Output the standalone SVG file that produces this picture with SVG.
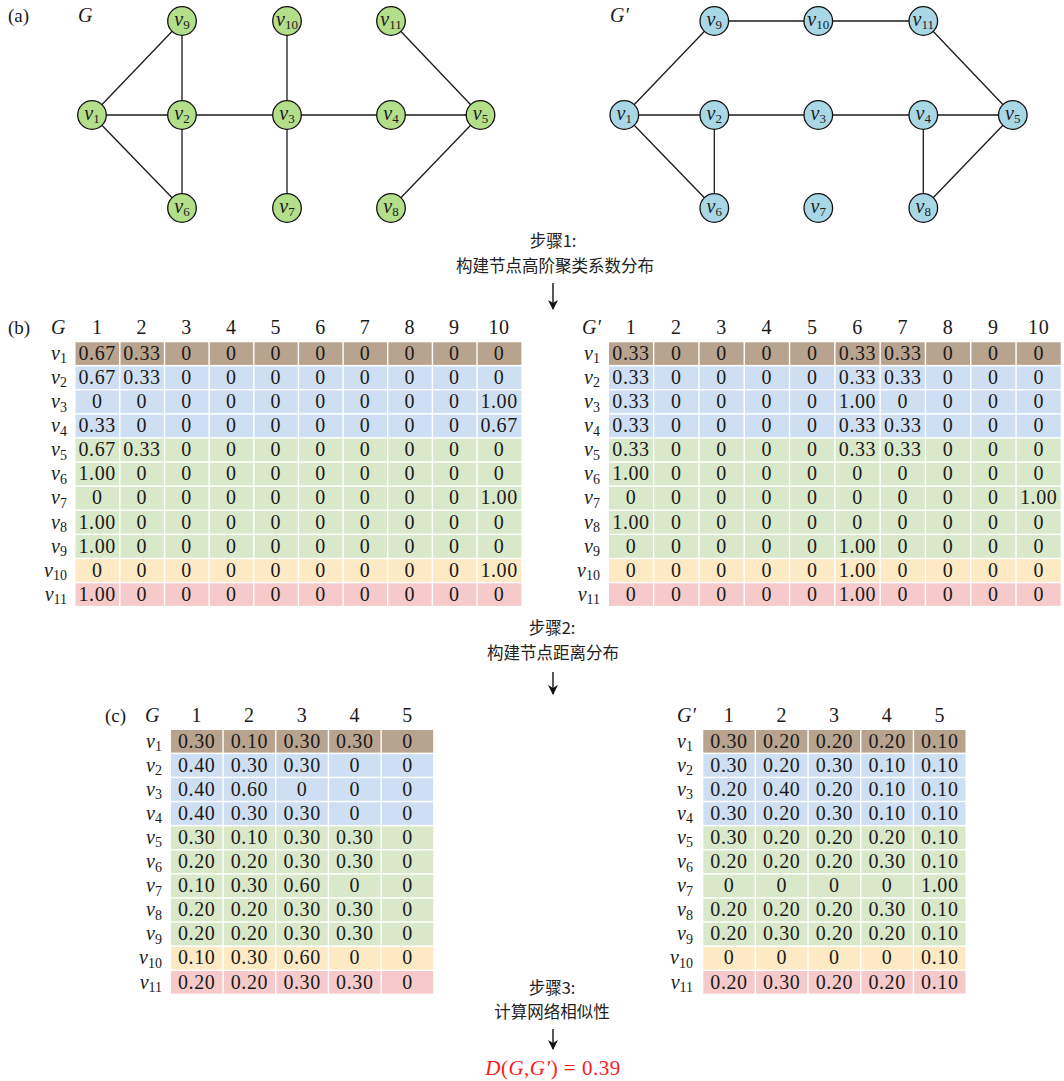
<svg xmlns="http://www.w3.org/2000/svg" width="1064" height="1081" viewBox="0 0 1064 1081">
<defs>
<style>
.bg{fill:#ffffff}
.e{stroke:#1a1a1a;stroke-width:1.3;fill:none}
.ng{fill:#b3de8a;stroke:#111;stroke-width:1.3}
.nb{fill:#a9d7e6;stroke:#111;stroke-width:1.3}
.nl{font-family:"Liberation Serif",serif;font-size:20px;font-style:italic;fill:#1a1a1a;text-anchor:middle}
.sub{font-style:normal;font-size:13px}
.num{font-family:"Liberation Serif",serif;font-size:20px;fill:#1a1a1a;text-anchor:middle;letter-spacing:0.6px}
.rl{font-family:"Liberation Serif",serif;font-size:20px;font-style:italic;fill:#1a1a1a;text-anchor:end}
.rsub{font-style:normal;font-size:14px}
.it{font-family:"Liberation Serif",serif;font-size:20px;font-style:italic;fill:#1a1a1a}
.lab{font-family:"Liberation Serif",serif;font-size:19px;fill:#1a1a1a}
.cn{font-family:"Noto Sans CJK SC","Noto Sans",sans-serif;font-size:16.5px;fill:#222;text-anchor:middle}
.r1{fill:#b8a48e}
.r2{fill:#cfdff3}
.r3{fill:#d9e8c9}
.r4{fill:#fde9c4}
.r5{fill:#f6caca}
.wl{stroke:#ffffff;stroke-width:1.4}
.arr{stroke:#111;stroke-width:1.4}
</style>
<marker id="ah" markerWidth="10" markerHeight="12" refX="9" refY="5" orient="auto" markerUnits="userSpaceOnUse">
<path d="M0,0 L10,5 L0,10 L3,5 Z" fill="#111"/>
</marker>
</defs>
<rect class="bg" x="0" y="0" width="1064" height="1081"/>

<!-- (a) labels -->
<text class="lab" x="8" y="22">(a)</text>
<text class="it" x="78" y="22">G</text>
<text class="it" x="610" y="22">G′</text>

<!-- connectors -->
<g id="connectors">
<g id="edges-G">
<line class="e" x1="92" y1="115" x2="182" y2="21"/>
<line class="e" x1="92" y1="115" x2="182" y2="115"/>
<line class="e" x1="92" y1="115" x2="182" y2="208"/>
<line class="e" x1="182" y1="21" x2="182" y2="115"/>
<line class="e" x1="182" y1="115" x2="182" y2="208"/>
<line class="e" x1="182" y1="115" x2="287" y2="115"/>
<line class="e" x1="287" y1="21" x2="287" y2="115"/>
<line class="e" x1="287" y1="115" x2="287" y2="208"/>
<line class="e" x1="287" y1="115" x2="391" y2="115"/>
<line class="e" x1="391" y1="115" x2="480.5" y2="115"/>
<line class="e" x1="391" y1="21" x2="480.5" y2="115"/>
<line class="e" x1="480.5" y1="115" x2="391" y2="208"/>
</g>
<g id="edges-G2">
<line class="e" x1="714.3" y1="21" x2="818.3" y2="21"/>
<line class="e" x1="818.3" y1="21" x2="923.3" y2="21"/>
<line class="e" x1="624.3" y1="115" x2="714.3" y2="21"/>
<line class="e" x1="624.3" y1="115" x2="714.3" y2="115"/>
<line class="e" x1="624.3" y1="115" x2="714.3" y2="208"/>
<line class="e" x1="714.3" y1="115" x2="714.3" y2="208"/>
<line class="e" x1="714.3" y1="115" x2="818.3" y2="115"/>
<line class="e" x1="818.3" y1="115" x2="923.3" y2="115"/>
<line class="e" x1="923.3" y1="115" x2="1012.8" y2="115"/>
<line class="e" x1="923.3" y1="115" x2="923.3" y2="208"/>
<line class="e" x1="923.3" y1="21" x2="1012.8" y2="115"/>
<line class="e" x1="1012.8" y1="115" x2="923.3" y2="208"/>
</g>
<g id="step-arrows">
<line class="arr" x1="553" y1="283" x2="553" y2="309" marker-end="url(#ah)"/>
<line class="arr" x1="553" y1="672" x2="553" y2="694" marker-end="url(#ah)"/>
<line class="arr" x1="553" y1="1029" x2="553" y2="1049" marker-end="url(#ah)"/>
</g>
</g>

<!-- graph G nodes -->
<g id="G-v1"><circle class="ng" cx="92" cy="115" r="14.3"/><text class="nl" x="92" y="120">v<tspan class="sub" dy="3">1</tspan></text></g>
<g id="G-v2"><circle class="ng" cx="182" cy="115" r="14.3"/><text class="nl" x="182" y="120">v<tspan class="sub" dy="3">2</tspan></text></g>
<g id="G-v3"><circle class="ng" cx="287" cy="115" r="14.3"/><text class="nl" x="287" y="120">v<tspan class="sub" dy="3">3</tspan></text></g>
<g id="G-v4"><circle class="ng" cx="391" cy="115" r="14.3"/><text class="nl" x="391" y="120">v<tspan class="sub" dy="3">4</tspan></text></g>
<g id="G-v5"><circle class="ng" cx="480.5" cy="115" r="14.3"/><text class="nl" x="480.5" y="120">v<tspan class="sub" dy="3">5</tspan></text></g>
<g id="G-v6"><circle class="ng" cx="182" cy="208" r="14.3"/><text class="nl" x="182" y="213">v<tspan class="sub" dy="3">6</tspan></text></g>
<g id="G-v7"><circle class="ng" cx="287" cy="208" r="14.3"/><text class="nl" x="287" y="213">v<tspan class="sub" dy="3">7</tspan></text></g>
<g id="G-v8"><circle class="ng" cx="391" cy="208" r="14.3"/><text class="nl" x="391" y="213">v<tspan class="sub" dy="3">8</tspan></text></g>
<g id="G-v9"><circle class="ng" cx="182" cy="21" r="14.3"/><text class="nl" x="182" y="26">v<tspan class="sub" dy="3">9</tspan></text></g>
<g id="G-v10"><circle class="ng" cx="287" cy="21" r="14.3"/><text class="nl" x="287" y="26">v<tspan class="sub" dy="3">10</tspan></text></g>
<g id="G-v11"><circle class="ng" cx="391" cy="21" r="14.3"/><text class="nl" x="391" y="26">v<tspan class="sub" dy="3">11</tspan></text></g>

<!-- graph G' nodes -->
<g id="G2-v1"><circle class="nb" cx="624.3" cy="115" r="14.3"/><text class="nl" x="624.3" y="120">v<tspan class="sub" dy="3">1</tspan></text></g>
<g id="G2-v2"><circle class="nb" cx="714.3" cy="115" r="14.3"/><text class="nl" x="714.3" y="120">v<tspan class="sub" dy="3">2</tspan></text></g>
<g id="G2-v3"><circle class="nb" cx="818.3" cy="115" r="14.3"/><text class="nl" x="818.3" y="120">v<tspan class="sub" dy="3">3</tspan></text></g>
<g id="G2-v4"><circle class="nb" cx="923.3" cy="115" r="14.3"/><text class="nl" x="923.3" y="120">v<tspan class="sub" dy="3">4</tspan></text></g>
<g id="G2-v5"><circle class="nb" cx="1012.8" cy="115" r="14.3"/><text class="nl" x="1012.8" y="120">v<tspan class="sub" dy="3">5</tspan></text></g>
<g id="G2-v6"><circle class="nb" cx="714.3" cy="208" r="14.3"/><text class="nl" x="714.3" y="213">v<tspan class="sub" dy="3">6</tspan></text></g>
<g id="G2-v7"><circle class="nb" cx="818.3" cy="208" r="14.3"/><text class="nl" x="818.3" y="213">v<tspan class="sub" dy="3">7</tspan></text></g>
<g id="G2-v8"><circle class="nb" cx="923.3" cy="208" r="14.3"/><text class="nl" x="923.3" y="213">v<tspan class="sub" dy="3">8</tspan></text></g>
<g id="G2-v9"><circle class="nb" cx="714.3" cy="21" r="14.3"/><text class="nl" x="714.3" y="26">v<tspan class="sub" dy="3">9</tspan></text></g>
<g id="G2-v10"><circle class="nb" cx="818.3" cy="21" r="14.3"/><text class="nl" x="818.3" y="26">v<tspan class="sub" dy="3">10</tspan></text></g>
<g id="G2-v11"><circle class="nb" cx="923.3" cy="21" r="14.3"/><text class="nl" x="923.3" y="26">v<tspan class="sub" dy="3">11</tspan></text></g>

<!-- step 1 -->
<g id="step1">
<text class="cn" x="553" y="247">步骤1:</text>
<text class="cn" x="555" y="272">构建节点高阶聚类系数分布</text>
</g>

<!-- (b) left table -->
<g id="table-b-G">
<text class="lab" x="8" y="333.5">(b)</text>
<text class="it" x="51" y="333.5">G</text>
<text class="num" y="333.5"><tspan x="97.2">1</tspan><tspan x="141.9">2</tspan><tspan x="186.5">3</tspan><tspan x="231.2">4</tspan><tspan x="275.8">5</tspan><tspan x="320.5">6</tspan><tspan x="365.1">7</tspan><tspan x="409.8">8</tspan><tspan x="454.4">9</tspan><tspan x="499.1">10</tspan></text>
<rect class="r1" x="75.5" y="342.3" width="445.9" height="22.6"/>
<rect class="r2" x="75.5" y="366.4" width="445.9" height="22.6"/>
<rect class="r2" x="75.5" y="390.5" width="445.9" height="22.6"/>
<rect class="r2" x="75.5" y="414.6" width="445.9" height="22.6"/>
<rect class="r3" x="75.5" y="438.7" width="445.9" height="22.6"/>
<rect class="r3" x="75.5" y="462.8" width="445.9" height="22.6"/>
<rect class="r3" x="75.5" y="486.9" width="445.9" height="22.6"/>
<rect class="r3" x="75.5" y="511.0" width="445.9" height="22.6"/>
<rect class="r3" x="75.5" y="535.1" width="445.9" height="22.6"/>
<rect class="r4" x="75.5" y="559.2" width="445.9" height="22.6"/>
<rect class="r5" x="75.5" y="583.3" width="445.9" height="22.6"/>
<path class="wl" d="M119.8,342V606 M164.5,342V606 M209.1,342V606 M253.8,342V606 M298.4,342V606 M343.1,342V606 M387.7,342V606 M432.4,342V606 M477,342V606"/>
<text class="rl" x="67" y="359.8">v<tspan class="rsub" dy="3.5">1</tspan></text>
<text class="rl" x="67" y="383.9">v<tspan class="rsub" dy="3.5">2</tspan></text>
<text class="rl" x="67" y="408">v<tspan class="rsub" dy="3.5">3</tspan></text>
<text class="rl" x="67" y="432.1">v<tspan class="rsub" dy="3.5">4</tspan></text>
<text class="rl" x="67" y="456.2">v<tspan class="rsub" dy="3.5">5</tspan></text>
<text class="rl" x="67" y="480.3">v<tspan class="rsub" dy="3.5">6</tspan></text>
<text class="rl" x="67" y="504.4">v<tspan class="rsub" dy="3.5">7</tspan></text>
<text class="rl" x="67" y="528.5">v<tspan class="rsub" dy="3.5">8</tspan></text>
<text class="rl" x="67" y="552.6">v<tspan class="rsub" dy="3.5">9</tspan></text>
<text class="rl" x="67" y="576.7">v<tspan class="rsub" dy="3.5">10</tspan></text>
<text class="rl" x="67" y="600.8">v<tspan class="rsub" dy="3.5">11</tspan></text>
<text class="num" y="359.8"><tspan x="97.2">0.67</tspan><tspan x="141.9">0.33</tspan><tspan x="186.5">0</tspan><tspan x="231.2">0</tspan><tspan x="275.8">0</tspan><tspan x="320.5">0</tspan><tspan x="365.1">0</tspan><tspan x="409.8">0</tspan><tspan x="454.4">0</tspan><tspan x="499.1">0</tspan></text>
<text class="num" y="383.9"><tspan x="97.2">0.67</tspan><tspan x="141.9">0.33</tspan><tspan x="186.5">0</tspan><tspan x="231.2">0</tspan><tspan x="275.8">0</tspan><tspan x="320.5">0</tspan><tspan x="365.1">0</tspan><tspan x="409.8">0</tspan><tspan x="454.4">0</tspan><tspan x="499.1">0</tspan></text>
<text class="num" y="408"><tspan x="97.2">0</tspan><tspan x="141.9">0</tspan><tspan x="186.5">0</tspan><tspan x="231.2">0</tspan><tspan x="275.8">0</tspan><tspan x="320.5">0</tspan><tspan x="365.1">0</tspan><tspan x="409.8">0</tspan><tspan x="454.4">0</tspan><tspan x="499.1">1.00</tspan></text>
<text class="num" y="432.1"><tspan x="97.2">0.33</tspan><tspan x="141.9">0</tspan><tspan x="186.5">0</tspan><tspan x="231.2">0</tspan><tspan x="275.8">0</tspan><tspan x="320.5">0</tspan><tspan x="365.1">0</tspan><tspan x="409.8">0</tspan><tspan x="454.4">0</tspan><tspan x="499.1">0.67</tspan></text>
<text class="num" y="456.2"><tspan x="97.2">0.67</tspan><tspan x="141.9">0.33</tspan><tspan x="186.5">0</tspan><tspan x="231.2">0</tspan><tspan x="275.8">0</tspan><tspan x="320.5">0</tspan><tspan x="365.1">0</tspan><tspan x="409.8">0</tspan><tspan x="454.4">0</tspan><tspan x="499.1">0</tspan></text>
<text class="num" y="480.3"><tspan x="97.2">1.00</tspan><tspan x="141.9">0</tspan><tspan x="186.5">0</tspan><tspan x="231.2">0</tspan><tspan x="275.8">0</tspan><tspan x="320.5">0</tspan><tspan x="365.1">0</tspan><tspan x="409.8">0</tspan><tspan x="454.4">0</tspan><tspan x="499.1">0</tspan></text>
<text class="num" y="504.4"><tspan x="97.2">0</tspan><tspan x="141.9">0</tspan><tspan x="186.5">0</tspan><tspan x="231.2">0</tspan><tspan x="275.8">0</tspan><tspan x="320.5">0</tspan><tspan x="365.1">0</tspan><tspan x="409.8">0</tspan><tspan x="454.4">0</tspan><tspan x="499.1">1.00</tspan></text>
<text class="num" y="528.5"><tspan x="97.2">1.00</tspan><tspan x="141.9">0</tspan><tspan x="186.5">0</tspan><tspan x="231.2">0</tspan><tspan x="275.8">0</tspan><tspan x="320.5">0</tspan><tspan x="365.1">0</tspan><tspan x="409.8">0</tspan><tspan x="454.4">0</tspan><tspan x="499.1">0</tspan></text>
<text class="num" y="552.6"><tspan x="97.2">1.00</tspan><tspan x="141.9">0</tspan><tspan x="186.5">0</tspan><tspan x="231.2">0</tspan><tspan x="275.8">0</tspan><tspan x="320.5">0</tspan><tspan x="365.1">0</tspan><tspan x="409.8">0</tspan><tspan x="454.4">0</tspan><tspan x="499.1">0</tspan></text>
<text class="num" y="576.7"><tspan x="97.2">0</tspan><tspan x="141.9">0</tspan><tspan x="186.5">0</tspan><tspan x="231.2">0</tspan><tspan x="275.8">0</tspan><tspan x="320.5">0</tspan><tspan x="365.1">0</tspan><tspan x="409.8">0</tspan><tspan x="454.4">0</tspan><tspan x="499.1">1.00</tspan></text>
<text class="num" y="600.8"><tspan x="97.2">1.00</tspan><tspan x="141.9">0</tspan><tspan x="186.5">0</tspan><tspan x="231.2">0</tspan><tspan x="275.8">0</tspan><tspan x="320.5">0</tspan><tspan x="365.1">0</tspan><tspan x="409.8">0</tspan><tspan x="454.4">0</tspan><tspan x="499.1">0</tspan></text>
</g>

<!-- (b) right table -->
<g id="table-b-G2">
<text class="it" x="582" y="333.5">G′</text>
<text class="num" y="333.5"><tspan x="631">1</tspan><tspan x="676.3">2</tspan><tspan x="721.6">3</tspan><tspan x="766.9">4</tspan><tspan x="812.2">5</tspan><tspan x="857.5">6</tspan><tspan x="902.8">7</tspan><tspan x="948.1">8</tspan><tspan x="993.4">9</tspan><tspan x="1038.7">10</tspan></text>
<rect class="r1" x="609" y="342.3" width="451.7" height="22.6"/>
<rect class="r2" x="609" y="366.4" width="451.7" height="22.6"/>
<rect class="r2" x="609" y="390.5" width="451.7" height="22.6"/>
<rect class="r2" x="609" y="414.6" width="451.7" height="22.6"/>
<rect class="r3" x="609" y="438.7" width="451.7" height="22.6"/>
<rect class="r3" x="609" y="462.8" width="451.7" height="22.6"/>
<rect class="r3" x="609" y="486.9" width="451.7" height="22.6"/>
<rect class="r3" x="609" y="511.0" width="451.7" height="22.6"/>
<rect class="r3" x="609" y="535.1" width="451.7" height="22.6"/>
<rect class="r4" x="609" y="559.2" width="451.7" height="22.6"/>
<rect class="r5" x="609" y="583.3" width="451.7" height="22.6"/>
<path class="wl" d="M653.65,342V606 M698.95,342V606 M744.25,342V606 M789.55,342V606 M834.85,342V606 M880.15,342V606 M925.45,342V606 M970.75,342V606 M1016.05,342V606"/>
<text class="rl" x="600" y="359.8">v<tspan class="rsub" dy="3.5">1</tspan></text>
<text class="rl" x="600" y="383.9">v<tspan class="rsub" dy="3.5">2</tspan></text>
<text class="rl" x="600" y="408">v<tspan class="rsub" dy="3.5">3</tspan></text>
<text class="rl" x="600" y="432.1">v<tspan class="rsub" dy="3.5">4</tspan></text>
<text class="rl" x="600" y="456.2">v<tspan class="rsub" dy="3.5">5</tspan></text>
<text class="rl" x="600" y="480.3">v<tspan class="rsub" dy="3.5">6</tspan></text>
<text class="rl" x="600" y="504.4">v<tspan class="rsub" dy="3.5">7</tspan></text>
<text class="rl" x="600" y="528.5">v<tspan class="rsub" dy="3.5">8</tspan></text>
<text class="rl" x="600" y="552.6">v<tspan class="rsub" dy="3.5">9</tspan></text>
<text class="rl" x="600" y="576.7">v<tspan class="rsub" dy="3.5">10</tspan></text>
<text class="rl" x="600" y="600.8">v<tspan class="rsub" dy="3.5">11</tspan></text>
<text class="num" y="359.8"><tspan x="631">0.33</tspan><tspan x="676.3">0</tspan><tspan x="721.6">0</tspan><tspan x="766.9">0</tspan><tspan x="812.2">0</tspan><tspan x="857.5">0.33</tspan><tspan x="902.8">0.33</tspan><tspan x="948.1">0</tspan><tspan x="993.4">0</tspan><tspan x="1038.7">0</tspan></text>
<text class="num" y="383.9"><tspan x="631">0.33</tspan><tspan x="676.3">0</tspan><tspan x="721.6">0</tspan><tspan x="766.9">0</tspan><tspan x="812.2">0</tspan><tspan x="857.5">0.33</tspan><tspan x="902.8">0.33</tspan><tspan x="948.1">0</tspan><tspan x="993.4">0</tspan><tspan x="1038.7">0</tspan></text>
<text class="num" y="408"><tspan x="631">0.33</tspan><tspan x="676.3">0</tspan><tspan x="721.6">0</tspan><tspan x="766.9">0</tspan><tspan x="812.2">0</tspan><tspan x="857.5">1.00</tspan><tspan x="902.8">0</tspan><tspan x="948.1">0</tspan><tspan x="993.4">0</tspan><tspan x="1038.7">0</tspan></text>
<text class="num" y="432.1"><tspan x="631">0.33</tspan><tspan x="676.3">0</tspan><tspan x="721.6">0</tspan><tspan x="766.9">0</tspan><tspan x="812.2">0</tspan><tspan x="857.5">0.33</tspan><tspan x="902.8">0.33</tspan><tspan x="948.1">0</tspan><tspan x="993.4">0</tspan><tspan x="1038.7">0</tspan></text>
<text class="num" y="456.2"><tspan x="631">0.33</tspan><tspan x="676.3">0</tspan><tspan x="721.6">0</tspan><tspan x="766.9">0</tspan><tspan x="812.2">0</tspan><tspan x="857.5">0.33</tspan><tspan x="902.8">0.33</tspan><tspan x="948.1">0</tspan><tspan x="993.4">0</tspan><tspan x="1038.7">0</tspan></text>
<text class="num" y="480.3"><tspan x="631">1.00</tspan><tspan x="676.3">0</tspan><tspan x="721.6">0</tspan><tspan x="766.9">0</tspan><tspan x="812.2">0</tspan><tspan x="857.5">0</tspan><tspan x="902.8">0</tspan><tspan x="948.1">0</tspan><tspan x="993.4">0</tspan><tspan x="1038.7">0</tspan></text>
<text class="num" y="504.4"><tspan x="631">0</tspan><tspan x="676.3">0</tspan><tspan x="721.6">0</tspan><tspan x="766.9">0</tspan><tspan x="812.2">0</tspan><tspan x="857.5">0</tspan><tspan x="902.8">0</tspan><tspan x="948.1">0</tspan><tspan x="993.4">0</tspan><tspan x="1038.7">1.00</tspan></text>
<text class="num" y="528.5"><tspan x="631">1.00</tspan><tspan x="676.3">0</tspan><tspan x="721.6">0</tspan><tspan x="766.9">0</tspan><tspan x="812.2">0</tspan><tspan x="857.5">0</tspan><tspan x="902.8">0</tspan><tspan x="948.1">0</tspan><tspan x="993.4">0</tspan><tspan x="1038.7">0</tspan></text>
<text class="num" y="552.6"><tspan x="631">0</tspan><tspan x="676.3">0</tspan><tspan x="721.6">0</tspan><tspan x="766.9">0</tspan><tspan x="812.2">0</tspan><tspan x="857.5">1.00</tspan><tspan x="902.8">0</tspan><tspan x="948.1">0</tspan><tspan x="993.4">0</tspan><tspan x="1038.7">0</tspan></text>
<text class="num" y="576.7"><tspan x="631">0</tspan><tspan x="676.3">0</tspan><tspan x="721.6">0</tspan><tspan x="766.9">0</tspan><tspan x="812.2">0</tspan><tspan x="857.5">1.00</tspan><tspan x="902.8">0</tspan><tspan x="948.1">0</tspan><tspan x="993.4">0</tspan><tspan x="1038.7">0</tspan></text>
<text class="num" y="600.8"><tspan x="631">0</tspan><tspan x="676.3">0</tspan><tspan x="721.6">0</tspan><tspan x="766.9">0</tspan><tspan x="812.2">0</tspan><tspan x="857.5">1.00</tspan><tspan x="902.8">0</tspan><tspan x="948.1">0</tspan><tspan x="993.4">0</tspan><tspan x="1038.7">0</tspan></text>
</g>

<!-- step 2 -->
<g id="step2">
<text class="cn" x="552" y="634">步骤2:</text>
<text class="cn" x="553" y="659">构建节点距离分布</text>
</g>

<!-- (c) left table -->
<g id="table-c-G">
<text class="lab" x="105" y="721.5">(c)</text>
<text class="it" x="145" y="721.5">G</text>
<text class="num" y="721.5"><tspan x="196.7">1</tspan><tspan x="249.4">2</tspan><tspan x="302.1">3</tspan><tspan x="354.8">4</tspan><tspan x="407.5">5</tspan></text>
<rect class="r1" x="171" y="730" width="262.2" height="22.6"/>
<rect class="r2" x="171" y="754.1" width="262.2" height="22.6"/>
<rect class="r2" x="171" y="778.2" width="262.2" height="22.6"/>
<rect class="r2" x="171" y="802.3" width="262.2" height="22.6"/>
<rect class="r3" x="171" y="826.4" width="262.2" height="22.6"/>
<rect class="r3" x="171" y="850.5" width="262.2" height="22.6"/>
<rect class="r3" x="171" y="874.6" width="262.2" height="22.6"/>
<rect class="r3" x="171" y="898.7" width="262.2" height="22.6"/>
<rect class="r3" x="171" y="922.8" width="262.2" height="22.6"/>
<rect class="r4" x="171" y="946.9" width="262.2" height="22.6"/>
<rect class="r5" x="171" y="971" width="262.2" height="22.6"/>
<path class="wl" d="M223.05,729V994 M275.75,729V994 M328.45,729V994 M381.15,729V994"/>
<text class="rl" x="162" y="747.5">v<tspan class="rsub" dy="3.5">1</tspan></text>
<text class="rl" x="162" y="771.6">v<tspan class="rsub" dy="3.5">2</tspan></text>
<text class="rl" x="162" y="795.7">v<tspan class="rsub" dy="3.5">3</tspan></text>
<text class="rl" x="162" y="819.8">v<tspan class="rsub" dy="3.5">4</tspan></text>
<text class="rl" x="162" y="843.9">v<tspan class="rsub" dy="3.5">5</tspan></text>
<text class="rl" x="162" y="868">v<tspan class="rsub" dy="3.5">6</tspan></text>
<text class="rl" x="162" y="892.1">v<tspan class="rsub" dy="3.5">7</tspan></text>
<text class="rl" x="162" y="916.2">v<tspan class="rsub" dy="3.5">8</tspan></text>
<text class="rl" x="162" y="940.3">v<tspan class="rsub" dy="3.5">9</tspan></text>
<text class="rl" x="162" y="964.4">v<tspan class="rsub" dy="3.5">10</tspan></text>
<text class="rl" x="162" y="988.5">v<tspan class="rsub" dy="3.5">11</tspan></text>
<text class="num" y="747.5"><tspan x="196.7">0.30</tspan><tspan x="249.4">0.10</tspan><tspan x="302.1">0.30</tspan><tspan x="354.8">0.30</tspan><tspan x="407.5">0</tspan></text>
<text class="num" y="771.6"><tspan x="196.7">0.40</tspan><tspan x="249.4">0.30</tspan><tspan x="302.1">0.30</tspan><tspan x="354.8">0</tspan><tspan x="407.5">0</tspan></text>
<text class="num" y="795.7"><tspan x="196.7">0.40</tspan><tspan x="249.4">0.60</tspan><tspan x="302.1">0</tspan><tspan x="354.8">0</tspan><tspan x="407.5">0</tspan></text>
<text class="num" y="819.8"><tspan x="196.7">0.40</tspan><tspan x="249.4">0.30</tspan><tspan x="302.1">0.30</tspan><tspan x="354.8">0</tspan><tspan x="407.5">0</tspan></text>
<text class="num" y="843.9"><tspan x="196.7">0.30</tspan><tspan x="249.4">0.10</tspan><tspan x="302.1">0.30</tspan><tspan x="354.8">0.30</tspan><tspan x="407.5">0</tspan></text>
<text class="num" y="868"><tspan x="196.7">0.20</tspan><tspan x="249.4">0.20</tspan><tspan x="302.1">0.30</tspan><tspan x="354.8">0.30</tspan><tspan x="407.5">0</tspan></text>
<text class="num" y="892.1"><tspan x="196.7">0.10</tspan><tspan x="249.4">0.30</tspan><tspan x="302.1">0.60</tspan><tspan x="354.8">0</tspan><tspan x="407.5">0</tspan></text>
<text class="num" y="916.2"><tspan x="196.7">0.20</tspan><tspan x="249.4">0.20</tspan><tspan x="302.1">0.30</tspan><tspan x="354.8">0.30</tspan><tspan x="407.5">0</tspan></text>
<text class="num" y="940.3"><tspan x="196.7">0.20</tspan><tspan x="249.4">0.20</tspan><tspan x="302.1">0.30</tspan><tspan x="354.8">0.30</tspan><tspan x="407.5">0</tspan></text>
<text class="num" y="964.4"><tspan x="196.7">0.10</tspan><tspan x="249.4">0.30</tspan><tspan x="302.1">0.60</tspan><tspan x="354.8">0</tspan><tspan x="407.5">0</tspan></text>
<text class="num" y="988.5"><tspan x="196.7">0.20</tspan><tspan x="249.4">0.20</tspan><tspan x="302.1">0.30</tspan><tspan x="354.8">0.30</tspan><tspan x="407.5">0</tspan></text>
</g>

<!-- (c) right table -->
<g id="table-c-G2">
<text class="it" x="677" y="721.5">G′</text>
<text class="num" y="721.5"><tspan x="729">1</tspan><tspan x="781.7">2</tspan><tspan x="834.4">3</tspan><tspan x="887.1">4</tspan><tspan x="939.8">5</tspan></text>
<rect class="r1" x="703.3" y="730" width="262.2" height="22.6"/>
<rect class="r2" x="703.3" y="754.1" width="262.2" height="22.6"/>
<rect class="r2" x="703.3" y="778.2" width="262.2" height="22.6"/>
<rect class="r2" x="703.3" y="802.3" width="262.2" height="22.6"/>
<rect class="r3" x="703.3" y="826.4" width="262.2" height="22.6"/>
<rect class="r3" x="703.3" y="850.5" width="262.2" height="22.6"/>
<rect class="r3" x="703.3" y="874.6" width="262.2" height="22.6"/>
<rect class="r3" x="703.3" y="898.7" width="262.2" height="22.6"/>
<rect class="r3" x="703.3" y="922.8" width="262.2" height="22.6"/>
<rect class="r4" x="703.3" y="946.9" width="262.2" height="22.6"/>
<rect class="r5" x="703.3" y="971" width="262.2" height="22.6"/>
<path class="wl" d="M755.35,729V994 M808.05,729V994 M860.75,729V994 M913.45,729V994"/>
<text class="rl" x="693" y="747.5">v<tspan class="rsub" dy="3.5">1</tspan></text>
<text class="rl" x="693" y="771.6">v<tspan class="rsub" dy="3.5">2</tspan></text>
<text class="rl" x="693" y="795.7">v<tspan class="rsub" dy="3.5">3</tspan></text>
<text class="rl" x="693" y="819.8">v<tspan class="rsub" dy="3.5">4</tspan></text>
<text class="rl" x="693" y="843.9">v<tspan class="rsub" dy="3.5">5</tspan></text>
<text class="rl" x="693" y="868">v<tspan class="rsub" dy="3.5">6</tspan></text>
<text class="rl" x="693" y="892.1">v<tspan class="rsub" dy="3.5">7</tspan></text>
<text class="rl" x="693" y="916.2">v<tspan class="rsub" dy="3.5">8</tspan></text>
<text class="rl" x="693" y="940.3">v<tspan class="rsub" dy="3.5">9</tspan></text>
<text class="rl" x="693" y="964.4">v<tspan class="rsub" dy="3.5">10</tspan></text>
<text class="rl" x="693" y="988.5">v<tspan class="rsub" dy="3.5">11</tspan></text>
<text class="num" y="747.5"><tspan x="729">0.30</tspan><tspan x="781.7">0.20</tspan><tspan x="834.4">0.20</tspan><tspan x="887.1">0.20</tspan><tspan x="939.8">0.10</tspan></text>
<text class="num" y="771.6"><tspan x="729">0.30</tspan><tspan x="781.7">0.20</tspan><tspan x="834.4">0.30</tspan><tspan x="887.1">0.10</tspan><tspan x="939.8">0.10</tspan></text>
<text class="num" y="795.7"><tspan x="729">0.20</tspan><tspan x="781.7">0.40</tspan><tspan x="834.4">0.20</tspan><tspan x="887.1">0.10</tspan><tspan x="939.8">0.10</tspan></text>
<text class="num" y="819.8"><tspan x="729">0.30</tspan><tspan x="781.7">0.20</tspan><tspan x="834.4">0.30</tspan><tspan x="887.1">0.10</tspan><tspan x="939.8">0.10</tspan></text>
<text class="num" y="843.9"><tspan x="729">0.30</tspan><tspan x="781.7">0.20</tspan><tspan x="834.4">0.20</tspan><tspan x="887.1">0.20</tspan><tspan x="939.8">0.10</tspan></text>
<text class="num" y="868"><tspan x="729">0.20</tspan><tspan x="781.7">0.20</tspan><tspan x="834.4">0.20</tspan><tspan x="887.1">0.30</tspan><tspan x="939.8">0.10</tspan></text>
<text class="num" y="892.1"><tspan x="729">0</tspan><tspan x="781.7">0</tspan><tspan x="834.4">0</tspan><tspan x="887.1">0</tspan><tspan x="939.8">1.00</tspan></text>
<text class="num" y="916.2"><tspan x="729">0.20</tspan><tspan x="781.7">0.20</tspan><tspan x="834.4">0.20</tspan><tspan x="887.1">0.30</tspan><tspan x="939.8">0.10</tspan></text>
<text class="num" y="940.3"><tspan x="729">0.20</tspan><tspan x="781.7">0.30</tspan><tspan x="834.4">0.20</tspan><tspan x="887.1">0.20</tspan><tspan x="939.8">0.10</tspan></text>
<text class="num" y="964.4"><tspan x="729">0</tspan><tspan x="781.7">0</tspan><tspan x="834.4">0</tspan><tspan x="887.1">0</tspan><tspan x="939.8">0.10</tspan></text>
<text class="num" y="988.5"><tspan x="729">0.20</tspan><tspan x="781.7">0.30</tspan><tspan x="834.4">0.20</tspan><tspan x="887.1">0.20</tspan><tspan x="939.8">0.10</tspan></text>
</g>

<!-- step 3 -->
<g id="step3">
<text class="cn" x="552" y="994">步骤3:</text>
<text class="cn" x="552" y="1018">计算网络相似性</text>
</g>

<g id="result">
<text x="553" y="1075" font-family="Liberation Serif, serif" font-size="21" fill="#ff1a1a" text-anchor="middle" letter-spacing="0.5"><tspan font-style="italic">D</tspan>(<tspan font-style="italic">G</tspan>,<tspan font-style="italic">G′</tspan>) = 0.39</text>
</g>
</svg>
